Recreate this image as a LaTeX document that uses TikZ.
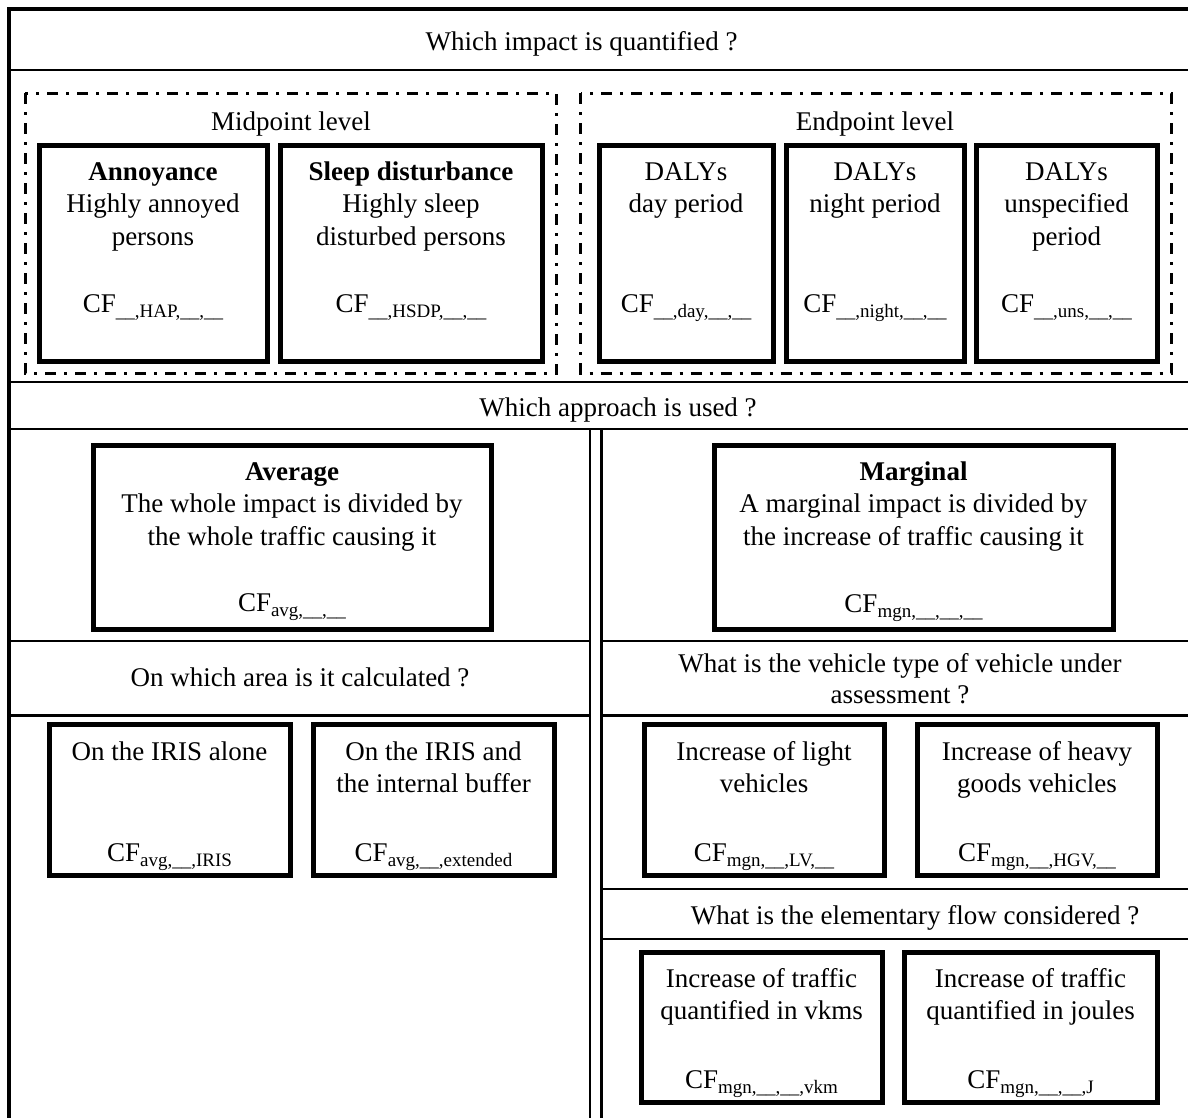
\documentclass[tikz,border=0pt]{standalone}
\usepackage{fontspec}
\setmainfont{Liberation Serif}
\tikzstyle{frame}=[line width=4.5pt]
\tikzstyle{rule}=[line width=2.5pt]
\tikzstyle{group}=[line width=3pt, dash pattern=on 11pt off 8pt on 3pt off 8pt]
\tikzstyle{choice}=[draw, line width=5pt, inner sep=0pt, outer sep=0pt]
\tikzstyle{question}=[align=center, anchor=base, inner sep=0pt, font=\fontsize{27}{32.5}\selectfont]
\tikzstyle{choicetext}=[question]
\tikzstyle{cflabel}=[question]
\newcommand{\cfgap}{\_\_}
\newcommand{\cfsub}[1]{CF\raisebox{-0.22em}{\fontsize{19}{19}\selectfont #1}}

\begin{document}
\begin{tikzpicture}[x=1pt, y=-1pt]
        \useasboundingbox (0,0) rectangle (1188,1117);
        \clip (0,0) rectangle (1188,1117);
        % table lines
        \draw[frame] (9,1130) -- (9,9) -- (1200,9);
        \draw[rule] (9,70) -- (1200,70);
        \draw[rule] (9,382) -- (1200,382);
        \draw[rule] (9,429) -- (1200,429);
        \draw[rule] (590,429) -- (590,1130);
        \draw[rule] (601.5,429) -- (601.5,1130);
        \draw[rule] (9,641) -- (590,641);
        \draw[rule] (601.5,641) -- (1200,641);
        \draw[rule] (9,715.5) -- (590,715.5);
        \draw[rule] (601.5,715.5) -- (1200,715.5);
        \draw[rule] (601.5,889) -- (1200,889);
        \draw[rule] (601.5,939) -- (1200,939);
        \draw[group] (25,93) rectangle (556.5,373);
        \draw[group] (580.5,93) rectangle (1171,373);
        % questions (base = last line)
        \node[question] (Qimpact)   at (581.5,50)  {Which impact is quantified ?};
        \node[question] (Qmid)      at (291,130)   {Midpoint level};
        \node[question] (Qend)      at (875,130)   {Endpoint level};
        \node[question] (Qapproach) at (618,416)   {Which approach is used ?};
        \node[question] (Qarea)     at (300,686)   {On which area is it calculated ?};
        \node[question] (Qvehicle)  at (900,703)   {What is the vehicle type of vehicle under\\[-1.5pt]assessment ?};
        \node[question] (Qflow)     at (915,924)   {What is the elementary flow considered ?};
        % boxes
        \node[choice, minimum width=228, minimum height=216]   (HAP)    at (153,253)    {};
        \node[choice, minimum width=262, minimum height=216]   (HSDP)   at (411,253)    {};
        \node[choice, minimum width=174, minimum height=216]   (day)    at (686,253)    {};
        \node[choice, minimum width=178, minimum height=216]   (night)  at (875,253)    {};
        \node[choice, minimum width=181, minimum height=216]   (uns)    at (1066.5,253) {};
        \node[choice, minimum width=398, minimum height=184]   (avg)    at (292,537)    {};
        \node[choice, minimum width=399, minimum height=184]   (mgn)    at (913.5,537)  {};
        \node[choice, minimum width=241, minimum height=150.5] (IRIS)   at (169.5,800)  {};
        \node[choice, minimum width=241, minimum height=150.5] (ext)    at (433.5,800)  {};
        \node[choice, minimum width=240, minimum height=150.5] (LV)     at (764,800)    {};
        \node[choice, minimum width=240, minimum height=150.5] (HGV)    at (1037,800)   {};
        \node[choice, minimum width=241, minimum height=150]   (vkm)    at (761.5,1027) {};
        \node[choice, minimum width=253, minimum height=150]   (J)      at (1030.5,1027){};
        % box texts
        \node[choicetext] (HAPtext)   at (153,245)    {\textbf{Annoyance}\\Highly annoyed\\persons};
        \node[choicetext] (HSDPtext)  at (411,245)    {\textbf{Sleep disturbance}\\Highly sleep\\disturbed persons};
        \node[choicetext] (daytext)   at (686,212.5)  {DALYs\\day period};
        \node[choicetext] (nighttext) at (875,212.5)  {DALYs\\night period};
        \node[choicetext] (unstext)   at (1066.5,245) {DALYs\\unspecified\\period};
        \node[choicetext] (avgtext)   at (292,545)    {\textbf{Average}\\The whole impact is divided by\\the whole traffic causing it};
        \node[choicetext] (mgntext)   at (913.5,545)  {\textbf{Marginal}\\A marginal impact is divided by\\the increase of traffic causing it};
        \node[choicetext] (IRIStext)  at (169.5,760)  {On the IRIS alone};
        \node[choicetext] (exttext)   at (433.5,792.5){On the IRIS and\\the internal buffer};
        \node[choicetext] (LVtext)    at (764,792.5)  {Increase of light\\vehicles};
        \node[choicetext] (HGVtext)   at (1037,792.5) {Increase of heavy\\goods vehicles};
        \node[choicetext] (vkmtext)   at (761.5,1019.5) {Increase of traffic\\quantified in vkms};
        \node[choicetext] (Jtext)     at (1030.5,1019.5){Increase of traffic\\quantified in joules};
        % characterisation factors
        \node[cflabel] (HAPcf)   at (153,312)    {\cfsub{\cfgap,HAP,\cfgap,\cfgap}};
        \node[cflabel] (HSDPcf)  at (411,312)    {\cfsub{\cfgap,HSDP,\cfgap,\cfgap}};
        \node[cflabel] (daycf)   at (686,312)    {\cfsub{\cfgap,day,\cfgap,\cfgap}};
        \node[cflabel] (nightcf) at (875,312)    {\cfsub{\cfgap,night,\cfgap,\cfgap}};
        \node[cflabel] (unscf)   at (1066.5,312) {\cfsub{\cfgap,uns,\cfgap,\cfgap}};
        \node[cflabel] (avgcf)   at (292,611)    {\cfsub{avg,\cfgap,\cfgap}};
        \node[cflabel] (mgncf)   at (913.5,612)  {\cfsub{mgn,\cfgap,\cfgap,\cfgap}};
        \node[cflabel] (IRIScf)  at (169.5,861)  {\cfsub{avg,\cfgap,IRIS}};
        \node[cflabel] (extcf)   at (433.5,861)  {\cfsub{avg,\cfgap,extended}};
        \node[cflabel] (LVcf)    at (764,861)    {\cfsub{mgn,\cfgap,LV,\cfgap}};
        \node[cflabel] (HGVcf)   at (1037,861)   {\cfsub{mgn,\cfgap,HGV,\cfgap}};
        \node[cflabel] (vkmcf)   at (761.5,1088) {\cfsub{mgn,\cfgap,\cfgap,vkm}};
        \node[cflabel] (Jcf)     at (1030.5,1088){\cfsub{mgn,\cfgap,\cfgap,J}};
    \end{tikzpicture}
\end{document}
